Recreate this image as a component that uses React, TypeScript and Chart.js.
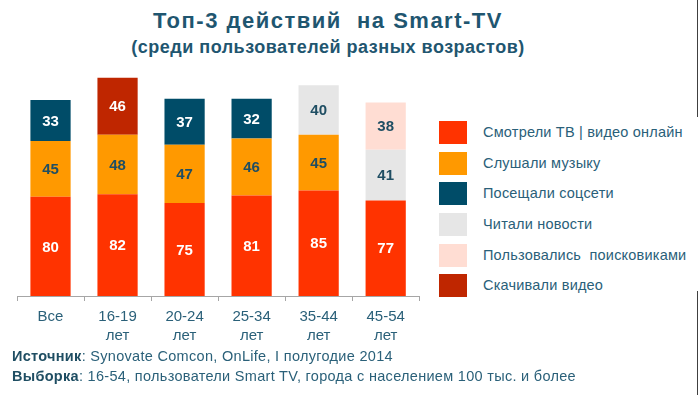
import React, { useEffect, useRef } from "react";
import { Chart, registerables } from "chart.js";

Chart.register(...registerables);

const categories: (string | string[])[] = ["Все", ["16-19", "лет"], ["20-24", "лет"], ["25-34", "лет"], ["35-44", "лет"], ["45-54", "лет"]];

const seriesNames = [
  "Смотрели ТВ | видео онлайн",
  "Слушали музыку",
  "Посещали соцсети",
  "Читали новости",
  "Пользовались  поисковиками",
  "Скачивали видео",
];

const watchedTV = [80, 82, 75, 81, 85, 77];
const music = [45, 48, 47, 46, 45, null];
const social = [33, null, 37, 32, null, null];
const news = [null, null, null, null, 40, 41];
const search = [null, null, null, null, null, 38];
const download = [null, 46, null, null, null, null];

const seriesColors = ["#FF3300", "#FF9900", "#004C68", "#E6E6E6", "#FFDDD3", "#BF2600"];
const labelColors = ["#FFFFFF", "#1F4E63", "#FFFFFF", "#1F4E63", "#1F4E63", "#FFFFFF"];

const titleText = "Топ-3 действий  на Smart-TV";
const subtitleText = "(среди пользователей разных возрастов)";
const sourceLabel = "Источник";
const sourceText = ": Synovate Comcon, OnLife, I полугодие 2014";
const sampleLabel = "Выборка";
const sampleText = ": 16-54, пользователи Smart TV, города с населением 100 тыс. и более";

const FONT = "'Liberation Sans', Arial, sans-serif";

const valueLabelsPlugin = {
  id: "valueLabels",
  afterDatasetsDraw(chart: any) {
    const ctx = chart.ctx;
    ctx.save();
    ctx.font = `bold 15px ${FONT}`;
    ctx.textAlign = "center";
    ctx.textBaseline = "middle";
    chart.data.datasets.forEach((ds: any, di: number) => {
      const meta = chart.getDatasetMeta(di);
      meta.data.forEach((el: any, i: number) => {
        const v = ds.data[i];
        if (v === null || v === undefined) return;
        const { x, y, base } = el.getProps(["x", "y", "base"], true);
        ctx.fillStyle = labelColors[di];
        ctx.fillText(String(v), x, (y + base) / 2 + 1);
      });
    });
    ctx.restore();
  },
};

export default function App() {
  const ref = useRef<HTMLCanvasElement>(null);

  useEffect(() => {
    if (!ref.current) return;
    const allSeries = [watchedTV, music, social, news, search, download];
    const chart = new Chart(ref.current, {
      type: "bar",
      data: {
        labels: categories as any,
        datasets: allSeries.map((d, i) => ({
          label: seriesNames[i],
          data: d as any,
          backgroundColor: seriesColors[i],
          borderWidth: 0,
          barPercentage: 0.6,
          categoryPercentage: 1,
        })),
      },
      options: {
        animation: false,
        responsive: false,
        maintainAspectRatio: false,
        layout: { padding: { left: 17, right: 10.8, top: 72.8, bottom: 49 } },
        plugins: {
          legend: { display: false },
          tooltip: { enabled: false },
          title: { display: false },
        },
        scales: {
          x: {
            stacked: true,
            afterFit: (s: any) => {
              s.height = 50;
            },
            grid: {
              display: true,
              drawOnChartArea: false,
              drawTicks: true,
              tickLength: 5,
              offset: true,
              color: "#A6A6A6",
            },
            border: { display: true, color: "#A6A6A6", width: 1 },
            ticks: {
              color: "#2A6079",
              padding: 6.5,
              font: { family: FONT, size: 15, lineHeight: 19 / 15 },
              maxRotation: 0,
              autoSkip: false,
            },
          },
          y: {
            stacked: true,
            display: false,
            min: 0,
            max: 180,
          },
        },
      },
      plugins: [valueLabelsPlugin],
    });
    return () => chart.destroy();
  }, []);

  const legendTop = 121;
  const legendStep = 30.65;

  return (
    <div
      style={{
        position: "absolute",
        left: 0,
        top: 0,
        width: 700,
        height: 395,
        background: "#FFFFFF",
        fontFamily: FONT,
        overflow: "hidden",
      }}
    >
      <div
        style={{
          position: "absolute",
          left: 78,
          width: 500,
          top: 8,
          textAlign: "center",
          color: "#1F5670",
          fontWeight: "bold",
          fontSize: 22,
          lineHeight: "26px",
          letterSpacing: "1.5px",
          whiteSpace: "pre",
        }}
      >
        {titleText}
      </div>
      <div
        style={{
          position: "absolute",
          left: 78,
          width: 500,
          top: 36,
          textAlign: "center",
          color: "#1F5670",
          fontWeight: "bold",
          fontSize: 18,
          lineHeight: "22px",
          letterSpacing: "0.5px",
          whiteSpace: "pre",
        }}
      >
        {subtitleText}
      </div>
      <canvas ref={ref} width={430} height={395} style={{ position: "absolute", left: 0, top: 0, width: 430, height: 395 }} />
      {seriesNames.map((name, i) => (
        <div key={i}>
          <div
            style={{
              position: "absolute",
              left: 439,
              top: legendTop + i * legendStep,
              width: 28,
              height: 23,
              background: seriesColors[i],
            }}
          />
          <div
            style={{
              position: "absolute",
              left: 483,
              top: legendTop + i * legendStep,
              height: 23,
              lineHeight: "23px",
              fontSize: 14.5,
              letterSpacing: "0.2px",
              color: "#2A6079",
              whiteSpace: "pre",
            }}
          >
            {name}
          </div>
        </div>
      ))}
      <div
        style={{
          position: "absolute",
          left: 12,
          top: 346,
          fontSize: 14.5,
          lineHeight: "20px",
          letterSpacing: "0.3px",
          color: "#2A6079",
          whiteSpace: "pre",
        }}
      >
        <div>
          <b style={{ color: "#1F4E63" }}>{sourceLabel}</b>
          {sourceText}
        </div>
        <div>
          <b style={{ color: "#1F4E63" }}>{sampleLabel}</b>
          {sampleText}
        </div>
      </div>
      <div style={{ position: "absolute", left: 697, top: 0, width: 1, height: 117, background: "#404040" }} />
      <div style={{ position: "absolute", left: 697, top: 291, width: 1, height: 104, background: "#404040" }} />
    </div>
  );
}
